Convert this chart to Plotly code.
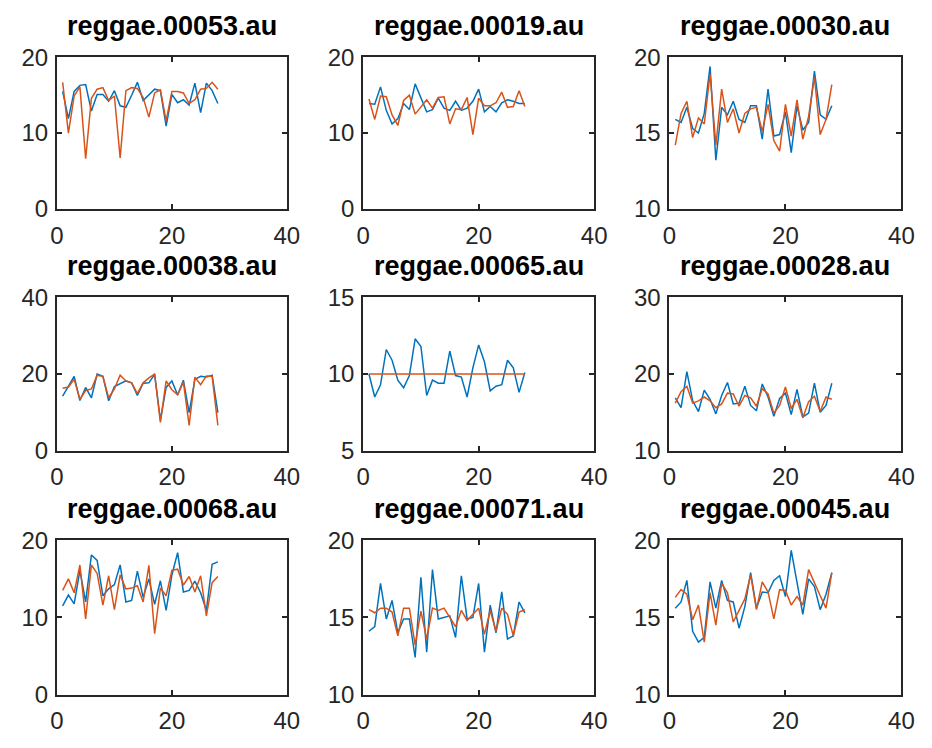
import plotly.graph_objects as go

x = list(range(1, 29))

titles = ["reggae.00053.au", "reggae.00019.au", "reggae.00030.au",
          "reggae.00038.au", "reggae.00065.au", "reggae.00028.au",
          "reggae.00068.au", "reggae.00071.au", "reggae.00045.au"]

blue_53 = [15.5, 11.9, 15.5, 16.3, 16.4, 12.9, 15.1, 15.1, 14.2, 15.6, 13.6, 13.4, 15.0, 16.7,
           14.3, 15.1, 15.8, 15.6, 10.9, 15.1, 14.0, 14.4, 13.7, 16.6, 12.7, 16.6, 15.6, 13.9]
orange_53 = [16.7, 10.0, 14.9, 16.1, 6.6, 14.6, 15.8, 16.0, 14.3, 14.9, 6.7, 15.6, 16.0, 15.9,
             14.7, 12.1, 15.3, 15.7, 11.6, 15.5, 15.5, 15.3, 13.9, 14.4, 15.8, 15.9, 16.7, 15.8]

blue_19 = [13.9, 13.8, 16.1, 13.0, 11.2, 11.9, 13.9, 13.1, 16.5, 14.7, 12.8, 13.1, 14.6, 13.3,
           13.0, 14.2, 13.0, 13.3, 14.2, 15.8, 12.8, 13.5, 12.8, 14.0, 14.4, 14.2, 13.9, 13.9]
orange_19 = [14.5, 11.8, 14.9, 14.8, 12.4, 11.0, 14.3, 15.0, 12.5, 13.4, 14.4, 13.3, 14.7, 14.8,
             11.2, 13.2, 13.1, 14.7, 9.8, 14.6, 13.6, 13.6, 14.0, 15.4, 13.4, 13.5, 15.6, 13.5]

blue_30 = [15.9, 15.7, 16.7, 15.3, 15.0, 16.3, 19.4, 13.2, 16.7, 16.2, 17.1, 15.9, 15.7, 16.8,
           16.8, 14.6, 17.9, 14.8, 14.9, 16.4, 13.7, 16.8, 15.2, 15.7, 19.1, 16.2, 15.9, 16.8]
orange_30 = [14.2, 16.3, 17.1, 14.7, 16.0, 15.6, 18.9, 14.2, 17.9, 15.7, 16.6, 15.0, 16.3, 16.6,
             16.7, 15.1, 16.9, 14.5, 13.8, 16.9, 14.8, 17.2, 14.6, 16.1, 18.7, 14.9, 15.9, 18.2]

blue_38 = [14.2, 16.9, 19.4, 13.1, 16.5, 13.8, 20.0, 19.4, 13.0, 16.7, 17.4, 18.2, 17.7, 14.4,
           17.6, 17.7, 19.9, 8.0, 16.5, 18.2, 14.5, 18.4, 9.9, 18.6, 19.4, 19.2, 19.7, 9.9]
orange_38 = [16.3, 16.6, 18.6, 13.4, 15.7, 16.1, 19.7, 19.4, 13.8, 16.1, 19.7, 18.2, 17.7, 14.9,
             17.7, 19.0, 20.0, 7.4, 18.2, 15.9, 14.6, 17.9, 6.6, 19.2, 17.2, 19.5, 19.4, 6.6]

blue_65 = [10.0, 8.5, 9.3, 11.6, 10.9, 9.6, 9.1, 9.9, 12.3, 11.8, 8.6, 9.6, 9.4, 9.4,
           11.5, 9.9, 9.8, 8.5, 10.4, 11.9, 10.8, 8.9, 9.2, 9.3, 10.9, 10.4, 8.8, 10.1]
orange_65 = [10.0] * 28

blue_28 = [16.9, 15.6, 20.3, 16.5, 15.1, 17.9, 16.7, 14.8, 17.2, 18.9, 16.1, 16.2, 18.4, 15.9,
           15.2, 18.7, 17.0, 14.5, 16.8, 17.5, 14.7, 18.0, 14.4, 14.9, 18.8, 15.0, 15.9, 18.8]
orange_28 = [16.2, 17.7, 18.4, 16.2, 16.5, 17.0, 16.5, 15.6, 16.1, 17.5, 17.4, 15.8, 17.2, 16.9,
             15.8, 18.1, 17.4, 14.9, 15.9, 18.3, 15.5, 16.7, 14.3, 16.4, 17.1, 15.1, 17.0, 16.7]

blue_68 = [11.5, 12.9, 11.75, 16.1, 12.0, 18.1, 17.4, 12.8, 13.7, 14.25, 16.8, 12.0, 12.2, 16.0,
           12.6, 15.0, 11.7, 14.75, 10.9, 15.5, 18.4, 13.3, 13.5, 14.7, 13.2, 10.9, 16.9, 17.2]
orange_68 = [13.5, 15.0, 13.2, 16.8, 9.8, 16.8, 15.7, 11.6, 15.4, 11.0, 15.5, 13.7, 13.8, 14.1,
             12.0, 16.75, 7.9, 13.8, 12.8, 16.1, 16.25, 14.2, 15.3, 13.3, 15.4, 10.2, 14.5, 15.3]

blue_71 = [14.1, 14.4, 17.2, 14.9, 16.1, 14.0, 14.9, 14.9, 12.4, 17.6, 12.75, 18.1, 14.9, 15.0,
           15.1, 13.7, 17.7, 14.9, 15.0, 17.2, 12.75, 15.8, 14.0, 16.65, 13.6, 13.8, 16.0, 15.3]
orange_71 = [15.5, 15.3, 15.6, 15.6, 15.35, 13.8, 15.6, 15.6, 13.2, 15.4, 13.6, 15.6, 15.45, 15.6,
             15.0, 14.4, 15.45, 14.8, 15.2, 15.6, 13.9, 15.45, 14.1, 15.6, 15.2, 13.8, 15.35, 15.5]

blue_45 = [15.6, 16.0, 17.4, 14.1, 13.4, 13.7, 17.3, 15.6, 17.4, 16.1, 16.0, 14.3, 15.7, 17.9,
           15.6, 16.65, 16.6, 17.4, 17.7, 16.35, 19.35, 17.3, 15.2, 17.5, 17.0, 15.5, 16.5, 17.9]
orange_45 = [16.3, 16.8, 16.5, 14.85, 15.8, 13.4, 16.6, 14.5, 17.2, 16.6, 14.7, 15.5, 16.2, 17.75,
             15.5, 17.3, 16.65, 14.9, 16.8, 16.75, 15.8, 16.35, 15.8, 18.1, 17.2, 16.4, 15.6, 17.9]

blues = [blue_53, blue_19, blue_30, blue_38, blue_65, blue_28, blue_68, blue_71, blue_45]
oranges = [orange_53, orange_19, orange_30, orange_38, orange_65, orange_28, orange_68, orange_71, orange_45]
y_ranges = [[0, 20], [0, 20], [10, 20], [0, 40], [5, 15], [10, 30], [0, 20], [10, 20], [10, 20]]
x_range = [0, 40]

W, H = 932, 748
col_px = [(51, 286), (364, 600), (677, 914)]
row_px = [(45, 202), (294, 453), (546, 706)]

fig = go.Figure()
ann = []
axis_color = "#262626"
for k in range(9):
    r, c = divmod(k, 3)
    n = k + 1
    xa = "x" if n == 1 else f"x{n}"
    ya = "y" if n == 1 else f"y{n}"
    fig.add_trace(go.Scatter(x=x, y=blues[k], mode="lines", line=dict(color="#0072BD", width=1.5),
                             xaxis=xa, yaxis=ya, showlegend=False))
    fig.add_trace(go.Scatter(x=x, y=oranges[k], mode="lines", line=dict(color="#D95319", width=1.5),
                             xaxis=xa, yaxis=ya, showlegend=False))
    x0, x1 = col_px[c]
    y0, y1 = row_px[r]
    xd = [x0 / W, x1 / W]
    yd = [1 - y1 / H, 1 - y0 / H]
    common = dict(showline=True, linecolor=axis_color, linewidth=2, mirror="ticks",
                  ticks="inside", ticklen=5, tickwidth=2, tickcolor=axis_color,
                  showgrid=False, zeroline=False,
                  tickfont=dict(family="Liberation Sans, Arial", size=24, color=axis_color))
    lo, hi = y_ranges[k]
    fig.layout[f"xaxis{'' if n == 1 else n}"] = dict(domain=xd, range=x_range, dtick=20, tick0=0,
                                                    anchor=ya, ticklabelstandoff=4, **common)
    fig.layout[f"yaxis{'' if n == 1 else n}"] = dict(domain=yd, range=[lo, hi], dtick=(hi - lo) / 2,
                                                    tick0=lo, anchor=xa, ticklabelstandoff=2, **common)
    ann.append(dict(text=f"<b>{titles[k]}</b>", x=(x0 + x1) / 2 / W, y=1 - (y0 - 15) / H,
                    xref="paper", yref="paper", xanchor="center", yanchor="bottom",
                    showarrow=False, font=dict(family="Liberation Sans, Arial", size=27, color="#000000")))

fig.update_layout(width=W, height=H, margin=dict(l=0, r=0, t=0, b=0),
                  paper_bgcolor="white", plot_bgcolor="white", annotations=ann)
fig.write_html("out.html")
